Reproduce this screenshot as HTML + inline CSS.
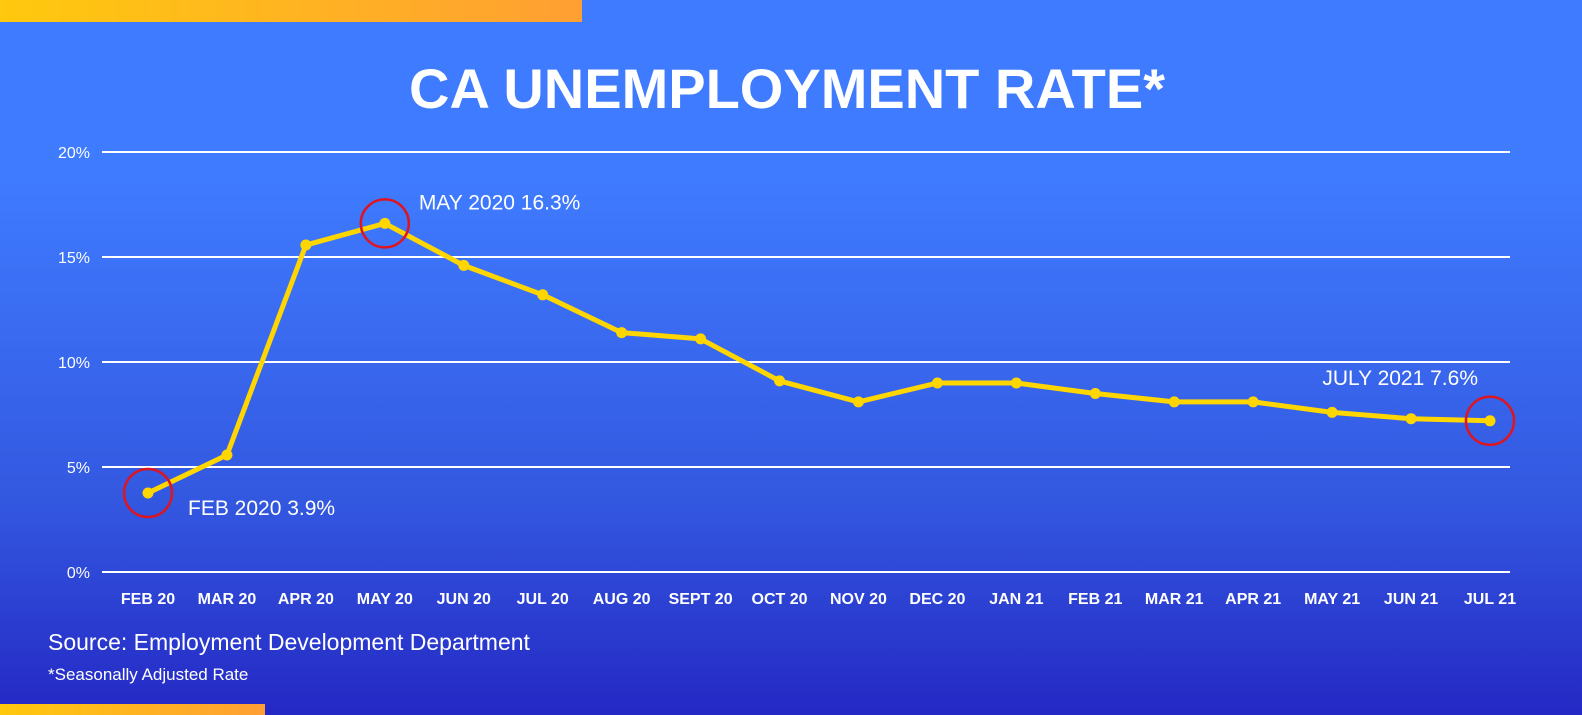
<!DOCTYPE html>
<html><head><meta charset="utf-8"><style>
html,body{margin:0;padding:0;}
body{width:1582px;height:715px;overflow:hidden;background:linear-gradient(180deg,#3f7bff 0%,#3f7bff 25%,#3358e0 70%,#2428c4 100%);font-family:"Liberation Sans",sans-serif;position:relative;}
.bar{position:absolute;background:linear-gradient(90deg,#ffc90e,#ff9f33);}
</style></head><body>
<div class="bar" style="left:0;top:0;width:582px;height:22px;"></div>
<div class="bar" style="left:0;top:704px;width:265px;height:11px;"></div>
<svg width="1582" height="715" style="position:absolute;left:0;top:0">
<text x="787" y="108" text-anchor="middle" fill="#fff" font-size="56" font-weight="bold" font-family="Liberation Sans, sans-serif">CA UNEMPLOYMENT RATE*</text>
<g id="grid"></g><g id="xlab"></g><g id="series"></g><g id="ann"></g>
<text x="48" y="650" fill="#fff" font-size="23">Source: Employment Development Department</text>
<text x="48" y="680" fill="#fff" font-size="17">*Seasonally Adjusted Rate</text>
</svg>
<script>
const categories=["FEB 20","MAR 20","APR 20","MAY 20","JUN 20","JUL 20","AUG 20","SEPT 20","OCT 20","NOV 20","DEC 20","JAN 21","FEB 21","MAR 21","APR 21","MAY 21","JUN 21","JUL 21"];
const values=[3.76,5.57,15.57,16.6,14.6,13.2,11.4,11.1,9.1,8.1,9.0,9.0,8.5,8.1,8.1,7.6,7.3,7.2];
const yTicks=[0,5,10,15,20];
const yTickLabels=["0%","5%","10%","15%","20%"];
const highlights=[0,3,17];
const highlightLabels=["FEB 2020 3.9%","MAY 2020 16.3%","JULY 2021  7.6%"];
const NS="http://www.w3.org/2000/svg";
const x0=148,x1=1490,y0=572,pxPer=21;
const xs=i=>x0+(x1-x0)*i/(categories.length-1);
const ys=v=>y0-v*pxPer;
function mk(t,a,p){const e=document.createElementNS(NS,t);for(const k in a)e.setAttribute(k,a[k]);p.appendChild(e);return e;}
const grid=document.getElementById('grid');
yTicks.forEach((v,i)=>{
 const l=mk('line',{x1:102,x2:1510,y1:ys(v),y2:ys(v),stroke:'#fff','stroke-width':2},grid);
 
 
 const t=mk('text',{x:90,y:ys(v)+6,'text-anchor':'end',fill:'#fff','font-size':16},grid);
 t.textContent=yTickLabels[i];
 
 
});
const xl=document.getElementById('xlab');
categories.forEach((c,i)=>{
 const t=mk('text',{x:xs(i),y:604,'text-anchor':'middle',fill:'#fff','font-size':16,'font-weight':'bold'},xl);
 t.textContent=c;
 
 
});
const s=document.getElementById('series');
const pl=mk('polyline',{points:values.map((v,i)=>xs(i)+','+ys(v)).join(' '),fill:'none',stroke:'#ffd600','stroke-width':5,'stroke-linejoin':'round'},s);


values.forEach((v,i)=>{
 const c=mk('circle',{cx:xs(i),cy:ys(v),r:5.5,fill:'#ffd600'},s);
 
 
});
const ann=document.getElementById('ann');
const off=[[40,22,'start'],[34,-14,'start'],[-12,-36,'end']];
highlights.forEach((idx,k)=>{
 const c=mk('circle',{cx:xs(idx),cy:ys(values[idx]),r:24,fill:'none',stroke:'#e0141e','stroke-width':2.5},ann);
 
 
 const t=mk('text',{x:xs(idx)+off[k][0],y:ys(values[idx])+off[k][1],'text-anchor':off[k][2],fill:'#fff','font-size':21},ann);
 t.textContent=highlightLabels[k];
 
 
});
</script>
</body></html>
